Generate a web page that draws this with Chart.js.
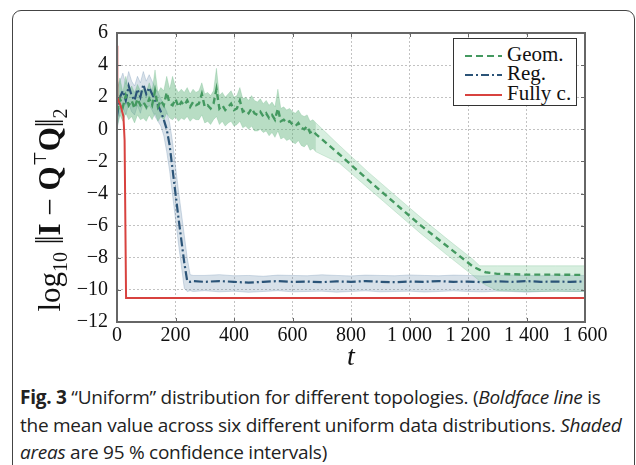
<!DOCTYPE html>
<html lang="en">
<head>
  <meta charset="UTF-8" />
  <title>Uniform distribution for different topologies</title>
  <script src="https://cdn.jsdelivr.net/npm/chart.js"></script>
  <style>
    body {
      margin: 0;
      width: 636px;
      height: 465px;
      overflow: hidden;
      background: #fff;
      position: relative;
      font-family: 'Liberation Serif', serif;
    }

    .frame {
      position: absolute;
      left: 12px;
      top: 10px;
      width: 621px;
      height: 480px;
      border: 1px solid #444;
      border-radius: 9px;
    }

    #chart {
      position: absolute;
      left: 0;
      top: 0;
    }

    .ytitle {
      position: absolute;
      left: -110px;
      top: 192px;
      width: 320px;
      height: 36px;
      line-height: 36px;
      text-align: center;
      transform: rotate(-90deg);
      white-space: nowrap;
      font-size: 31px;
      color: #111;
    }
    .ytitle sub { font-size: 20px; vertical-align: -7px; line-height: 0; }
    .ytitle sup { font-size: 17px; vertical-align: 14px; line-height: 0; }
    .ytitle .bars { display: inline-block; transform: scaleY(1.3); }

    .legend {
      position: absolute;
      left: 453px;
      top: 38px;
      width: 122px;
      height: 66px;
      border: 1.5px solid #333;
      background: #fff;
      font-size: 21px;
      color: #111;
    }
    .legend div {
      position: absolute;
      left: 11px;
      height: 20px;
      line-height: 20px;
      white-space: nowrap;
    }
    .legend svg { vertical-align: middle; margin-right: 5px; }

    .caption {
      position: absolute;
      left: 20px;
      top: 384px;
      font-family: 'Open Sans', sans-serif;
      font-size: 19px;
      line-height: 27.5px;
      letter-spacing: -0.25px;
      color: #222;
      white-space: nowrap;
    }
  </style>
</head>
<body>
  <div class="frame"></div>
  <canvas id="chart" width="636" height="374"></canvas>

  <div class="ytitle">log<sub>10</sub> <span class="bars">‖</span><b>I</b> − <b>Q</b><sup>⊤</sup><b>Q</b><span class="bars">‖</span><sub>2</sub></div>

  <div class="legend">
    <div style="top:5px"><svg width="37" height="6"><line x1="0" y1="3" x2="37" y2="3" stroke="#449960" stroke-width="2" stroke-dasharray="7,4"/></svg>Geom.</div>
    <div style="top:24px"><svg width="37" height="6"><line x1="0" y1="3" x2="37" y2="3" stroke="#2b5478" stroke-width="2" stroke-dasharray="8,3,2,3"/></svg>Reg.</div>
    <div style="top:44px"><svg width="37" height="6"><line x1="0" y1="3" x2="37" y2="3" stroke="#d8423f" stroke-width="2"/></svg>Fully c.</div>
  </div>

  <div class="caption">
    <b>Fig. 3</b> “Uniform” distribution for different topologies. (<i>Boldface line</i> is<br>
    the mean value across six different uniform data distributions. <i>Shaded</i><br>
    <i>areas</i> are 95 % confidence intervals)
  </div>

  <script>
    // tick labels
    const xTickLabels = ['0', '200', '400', '600', '800', '1 000', '1 200', '1 400', '1 600'];
    const yTickLabels = ['−12', '−10', '−8', '−6', '−4', '−2', '0', '2', '4', '6'];

    // Geom. (time steps, mean, upper / lower confidence bound)
    const geomT = [0, 10, 20, 30, 40, 50, 60, 70, 80, 90, 100, 110, 120, 130, 140, 150, 160, 170, 180, 190,
      200, 210, 220, 230, 240, 250, 260, 270, 280, 290, 300, 310, 320, 330, 340, 350, 360, 370, 380, 390,
      400, 410, 420, 430, 440, 450, 460, 470, 480, 490, 500, 510, 520, 530, 540, 550, 560, 570, 580, 590,
      600, 610, 620, 630, 640, 650, 660, 670, 680,
      760, 858, 950, 1036, 1130, 1217, 1240, 1260, 1300, 1400, 1500, 1600];
    const geomMean = [1.1, 1.9, 1.4, 2.1, 1.5, 1.8, 1.3, 1.9, 1.5, 1.7, 1.4, 1.9, 1.5, 2.4, 1.4, 1.8, 1.5, 2.3, 1.6, 1.5,
      1.9, 1.4, 1.7, 1.5, 1.8, 1.4, 1.7, 1.5, 1.6, 2.2, 1.4, 1.5, 1.3, 1.6, 2.5, 1.3, 1.5, 1.2, 1.4, 1.6,
      1.2, 1.3, 1.8, 1.1, 1.2, 1.0, 1.3, 1.0, 0.9, 1.1, 0.8, 1.0, 0.7, 0.9, 0.6, 1.3, 0.5, 0.6, 0.4, 0.5,
      0.3, 0.2, 0.4, 0.1, 0.0, 0.2, -0.2, -0.1, -0.3,
      -1.55, -3.15, -4.6, -5.95, -7.3, -8.55, -8.75, -8.9, -9.0, -9.05, -9.05, -9.07];
    const geomHigh = [2.6, 3.2, 2.3, 3.3, 2.4, 2.7, 2.3, 2.8, 2.4, 2.5, 2.3, 2.9, 2.4, 3.7, 2.3, 2.6, 2.4, 3.3, 2.5, 3.3,
      2.6, 2.3, 2.5, 2.3, 2.6, 2.2, 2.5, 2.3, 2.4, 2.9, 2.2, 2.3, 2.1, 2.4, 3.8, 2.1, 2.3, 2.0, 2.2, 2.4,
      2.0, 2.1, 2.6, 1.9, 2.0, 1.8, 2.1, 1.8, 1.7, 1.9, 1.6, 1.8, 1.5, 1.7, 1.4, 2.5, 1.3, 1.4, 1.2, 1.3,
      1.1, 1.0, 1.2, 0.9, 0.8, 0.9, 0.5, 0.6, 0.4,
      -1.0, -2.65, -4.1, -5.45, -6.85, -8.1, -8.5, -8.5, -8.5, -8.5, -8.5, -8.5];
    const geomLow = [0.1, 0.9, 0.5, 1.0, 0.6, 0.8, 0.4, 0.9, 0.6, 0.7, 0.5, 0.9, 0.6, 1.0, 0.5, 0.8, 0.6, 1.0, 0.7, 0.6,
      0.8, 0.5, 0.7, 0.6, 0.8, 0.5, 0.7, 0.6, 0.6, 0.9, 0.4, 0.5, 0.3, 0.6, 0.8, 0.3, 0.5, 0.2, 0.4, 0.5,
      0.2, 0.3, 0.5, 0.1, 0.2, 0.0, 0.2, -0.1, -0.1, 0.0, -0.2, -0.1, -0.4, -0.2, -0.5, -0.1, -0.6, -0.5, -0.7, -0.6,
      -0.8, -0.9, -0.7, -1.0, -1.1, -0.9, -1.3, -1.2, -1.4,
      -2.1, -3.65, -5.1, -6.45, -7.85, -9.1, -9.45, -9.7, -10.05, -10.1, -10.1, -10.1];

    // Reg.
    const regT = [0, 10, 20, 30, 40, 50, 60, 70, 80, 90, 100, 110, 120, 130, 140, 150, 160, 170,
      180, 190, 200, 210, 220, 230, 240, 250, 260,
      300, 350, 400, 450, 500, 550, 600, 650, 700, 750, 800, 850, 900, 950,
      1000, 1050, 1100, 1150, 1200, 1250, 1300, 1350, 1400, 1450, 1500, 1550, 1600];
    const regMean = [0.8, 2.0, 2.4, 1.8, 2.7, 2.1, 1.8, 2.5, 2.0, 2.8, 2.2, 2.6, 2.2, 1.8, 1.5, 1.1, 0.6, 0.0,
      -1.0, -2.5, -4.0, -5.5, -6.9, -8.3, -9.45, -9.5, -9.45,
      -9.5, -9.45, -9.5, -9.55, -9.5, -9.45, -9.5, -9.48, -9.52, -9.47, -9.5, -9.45, -9.5, -9.52,
      -9.48, -9.5, -9.45, -9.5, -9.48, -9.52, -9.47, -9.5, -9.45, -9.5, -9.48, -9.5, -9.47];
    const regHigh = [2.5, 3.0, 3.5, 2.8, 3.6, 3.0, 2.7, 3.3, 2.9, 3.6, 3.0, 3.4, 3.0, 2.6, 2.3, 1.9, 1.5, 1.1,
      0.4, -0.8, -2.3, -3.8, -5.2, -6.6, -8.0, -9.05, -9.1,
      -9.1, -9.05, -9.12, -9.1, -9.15, -9.08, -9.1, -9.12, -9.06, -9.1, -9.13, -9.08, -9.1, -9.12,
      -9.07, -9.1, -9.12, -9.08, -9.1, -9.13, -9.1, -9.07, -9.1, -9.12, -9.08, -9.1, -9.1];
    const regLow = [0.0, 1.0, 1.4, 0.9, 1.6, 1.1, 0.9, 1.5, 1.0, 1.7, 1.2, 1.5, 1.2, 0.8, 0.5, 0.2, -0.4, -1.4,
      -2.6, -4.1, -5.6, -7.1, -8.5, -9.9, -10.1, -10.05, -10.1,
      -10.05, -10.12, -10.08, -10.15, -10.1, -10.05, -10.12, -10.1, -10.08, -10.14, -10.1, -10.06, -10.12, -10.1,
      -10.08, -10.13, -10.1, -10.06, -10.1, -10.12, -10.08, -10.1, -10.14, -10.1, -10.07, -10.1, -10.1];

    // Fully c.
    const fullT = [0, 1, 5, 12, 22, 26, 31, 1600];
    const fullMean = [5.2, 2.0, 1.8, 1.5, 0.8, -0.7, -10.5, -10.5];

    const pts = (t, v) => t.map((x, i) => ({ x: x, y: v[i] }));

    // noisy start of the Geom. run is darker in the figure
    const geomFill = c => (c.p1.parsed.x <= 680 ? 'rgba(85,175,115,0.42)' : 'rgba(110,195,140,0.27)');

    const frame = {
      id: 'frame',
      afterDraw(chart) {
        const { ctx, chartArea: a, scales: { x, y } } = chart;
        ctx.save();
        ctx.strokeStyle = '#666';
        ctx.lineWidth = 1;
        ctx.beginPath();
        x.ticks.forEach(t => {
          const px = Math.round(x.getPixelForValue(t.value)) + 0.5;
          ctx.moveTo(px, a.top); ctx.lineTo(px, a.top + 4);
          ctx.moveTo(px, a.bottom); ctx.lineTo(px, a.bottom - 4);
        });
        y.ticks.forEach(t => {
          const py = Math.round(y.getPixelForValue(t.value)) + 0.5;
          ctx.moveTo(a.left, py); ctx.lineTo(a.left + 4, py);
          ctx.moveTo(a.right, py); ctx.lineTo(a.right - 4, py);
        });
        ctx.stroke();
        ctx.lineWidth = 2;
        ctx.strokeRect(a.left, a.top, a.right - a.left, a.bottom - a.top);
        ctx.restore();
      }
    };

    const tickFont = { family: "'Liberation Serif', serif", size: 20 };

    new Chart(document.getElementById('chart'), {
      type: 'line',
      data: {
        datasets: [
          { data: pts(fullT, fullMean), borderColor: '#d8423f', borderWidth: 2, order: 0 },
          { data: pts(geomT, geomMean), borderColor: '#449960', borderWidth: 2.4, borderDash: [6, 4], order: 1 },
          { data: pts(regT, regMean), borderColor: '#2b5478', borderWidth: 2.2, borderDash: [9, 3, 2, 3], order: 2 },
          { data: pts(geomT, geomHigh), borderColor: 'rgba(90,175,120,0.3)', borderWidth: 0.8,
            backgroundColor: 'rgba(110,195,140,0.27)', fill: '+1', order: 3,
            segment: { backgroundColor: geomFill } },
          { data: pts(geomT, geomLow), borderColor: 'rgba(90,175,120,0.3)', borderWidth: 0.8, order: 3 },
          { data: pts(regT, regHigh), borderColor: 'rgba(100,135,170,0.35)', borderWidth: 0.8,
            backgroundColor: 'rgba(90,130,165,0.24)', fill: '+1', order: 4 },
          { data: pts(regT, regLow), borderColor: 'rgba(100,135,170,0.35)', borderWidth: 0.8, order: 4 }
        ]
      },
      options: {
        responsive: false,
        animation: false,
        elements: { point: { radius: 0 }, line: { tension: 0 } },
        layout: { padding: { left: 0, right: 51, top: 33, bottom: 0 } },
        plugins: { legend: { display: false }, tooltip: { enabled: false } },
        scales: {
          x: {
            type: 'linear',
            min: 0,
            max: 1600,
            afterFit: s => { s.height = 52; },
            ticks: {
              stepSize: 200,
              color: '#111',
              font: tickFont,
              padding: 2,
              maxRotation: 0,
              callback: (v, i) => xTickLabels[i]
            },
            grid: { color: '#c2c2c2', drawTicks: false },
            border: { display: false, dash: [2, 2] },
            title: {
              display: true,
              text: 't',
              color: '#111',
              font: { family: "'Liberation Serif', serif", size: 28, style: 'italic' },
              padding: { top: 0, bottom: 0 }
            }
          },
          y: {
            min: -12,
            max: 6,
            afterFit: s => { s.width = 117; },
            ticks: {
              stepSize: 2,
              color: '#111',
              font: tickFont,
              padding: 9,
              callback: (v, i) => yTickLabels[i]
            },
            grid: { color: '#c2c2c2', drawTicks: false },
            border: { display: false, dash: [2, 2] }
          }
        }
      },
      plugins: [frame]
    });
  </script>
</body>
</html>
